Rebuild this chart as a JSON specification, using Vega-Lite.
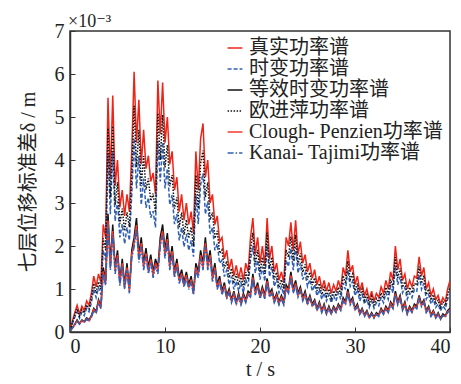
{
"$schema": "https://vega.github.io/schema/vega-lite/v6.json",
"width": 380, "height": 301,
"autosize": "none",
"padding": {"left": 70, "top": 31, "right": 11, "bottom": 52},
"background": "white",
"config": {"font": "Liberation Serif, Noto Sans CJK SC", "view": {"stroke": "#333", "strokeWidth": 1.5},
  "axis": {"grid": false, "domainColor": "#333", "domainWidth": 1.5, "tickColor": "#333", "tickSize": -5, "labelFontSize": 20, "labelColor": "#222", "titleFontSize": 20, "titleFontWeight": "normal", "titleColor": "#222", "labelFont": "Liberation Serif", "titleFont": "Liberation Serif, Noto Sans CJK SC"}},
"title": {"text": "×10⁻³", "anchor": "start", "frame": "group", "fontSize": 18, "fontWeight": "normal", "offset": 0, "dy": 10, "dx": -2, "color": "#222", "font": "Liberation Serif, DejaVu Serif"},
"data": {"values": [
{"t":0,"a":0.05,"b":0.04,"c":0.02,"d":0.04,"e":0.02,"f":0.02},
{"t":0.25,"a":0.25,"b":0.19,"c":0.10,"d":0.22,"e":0.09,"f":0.09},
{"t":0.5,"a":0.45,"b":0.34,"c":0.18,"d":0.39,"e":0.17,"f":0.16},
{"t":0.75,"a":0.62,"b":0.47,"c":0.28,"d":0.54,"e":0.26,"f":0.25},
{"t":1,"a":0.42,"b":0.32,"c":0.20,"d":0.37,"e":0.19,"f":0.18},
{"t":1.25,"a":0.60,"b":0.46,"c":0.28,"d":0.52,"e":0.26,"f":0.25},
{"t":1.5,"a":0.50,"b":0.38,"c":0.24,"d":0.44,"e":0.23,"f":0.22},
{"t":1.75,"a":0.72,"b":0.55,"c":0.33,"d":0.63,"e":0.31,"f":0.30},
{"t":2,"a":0.62,"b":0.47,"c":0.28,"d":0.54,"e":0.26,"f":0.25},
{"t":2.25,"a":0.90,"b":0.68,"c":0.38,"d":0.78,"e":0.36,"f":0.34},
{"t":2.5,"a":1.30,"b":0.99,"c":0.55,"d":1.13,"e":0.52,"f":0.50},
{"t":2.75,"a":1.05,"b":0.80,"c":0.48,"d":0.91,"e":0.45,"f":0.43},
{"t":3,"a":1.35,"b":1.03,"c":0.75,"d":1.17,"e":0.71,"f":0.68},
{"t":3.25,"a":1.15,"b":0.87,"c":0.60,"d":1.00,"e":0.56,"f":0.54},
{"t":3.5,"a":2.50,"b":1.90,"c":1.50,"d":2.18,"e":1.41,"f":1.35},
{"t":3.75,"a":2.20,"b":1.67,"c":1.20,"d":1.91,"e":1.13,"f":1.08},
{"t":4,"a":5.45,"b":4.14,"c":2.75,"d":4.74,"e":2.59,"f":2.48},
{"t":4.25,"a":3.60,"b":2.74,"c":1.60,"d":3.13,"e":1.50,"f":1.44},
{"t":4.5,"a":5.50,"b":4.18,"c":2.50,"d":4.79,"e":2.35,"f":2.25},
{"t":4.75,"a":3.40,"b":2.58,"c":1.50,"d":2.96,"e":1.41,"f":1.35},
{"t":5,"a":4.00,"b":3.04,"c":1.90,"d":3.48,"e":1.79,"f":1.71},
{"t":5.25,"a":2.90,"b":2.20,"c":1.20,"d":2.52,"e":1.13,"f":1.08},
{"t":5.5,"a":3.30,"b":2.51,"c":1.70,"d":2.87,"e":1.60,"f":1.53},
{"t":5.75,"a":2.70,"b":2.05,"c":1.10,"d":2.35,"e":1.03,"f":0.99},
{"t":6,"a":3.20,"b":2.43,"c":1.60,"d":2.78,"e":1.50,"f":1.44},
{"t":6.25,"a":2.80,"b":2.13,"c":1.00,"d":2.44,"e":0.94,"f":0.90},
{"t":6.5,"a":4.20,"b":3.19,"c":1.90,"d":3.65,"e":1.79,"f":1.71},
{"t":6.75,"a":6.05,"b":4.50,"c":2.20,"d":5.26,"e":2.07,"f":1.98},
{"t":7,"a":4.40,"b":3.34,"c":2.65,"d":3.83,"e":2.49,"f":2.39},
{"t":7.25,"a":5.40,"b":4.10,"c":1.80,"d":4.70,"e":1.69,"f":1.62},
{"t":7.5,"a":3.90,"b":2.96,"c":2.20,"d":3.39,"e":2.07,"f":1.98},
{"t":7.75,"a":4.70,"b":3.57,"c":1.60,"d":4.09,"e":1.50,"f":1.44},
{"t":8,"a":3.80,"b":2.89,"c":1.95,"d":3.31,"e":1.83,"f":1.76},
{"t":8.25,"a":4.10,"b":3.12,"c":1.50,"d":3.57,"e":1.41,"f":1.35},
{"t":8.5,"a":3.50,"b":2.66,"c":1.80,"d":3.05,"e":1.69,"f":1.62},
{"t":8.75,"a":3.70,"b":2.81,"c":1.40,"d":3.22,"e":1.32,"f":1.26},
{"t":9,"a":3.20,"b":2.43,"c":1.70,"d":2.78,"e":1.60,"f":1.53},
{"t":9.25,"a":5.85,"b":4.45,"c":1.50,"d":5.09,"e":1.41,"f":1.35},
{"t":9.5,"a":4.60,"b":3.50,"c":2.20,"d":4.00,"e":2.07,"f":1.98},
{"t":9.75,"a":5.80,"b":4.41,"c":2.50,"d":5.05,"e":2.35,"f":2.25},
{"t":10,"a":4.40,"b":3.34,"c":1.90,"d":3.83,"e":1.79,"f":1.71},
{"t":10.25,"a":5.00,"b":3.80,"c":2.30,"d":4.35,"e":2.16,"f":2.07},
{"t":10.5,"a":3.90,"b":2.96,"c":1.60,"d":3.39,"e":1.50,"f":1.44},
{"t":10.75,"a":4.20,"b":3.19,"c":2.00,"d":3.65,"e":1.88,"f":1.80},
{"t":11,"a":3.30,"b":2.51,"c":1.40,"d":2.87,"e":1.32,"f":1.26},
{"t":11.25,"a":3.60,"b":2.74,"c":1.70,"d":3.13,"e":1.60,"f":1.53},
{"t":11.5,"a":2.80,"b":2.13,"c":1.25,"d":2.44,"e":1.18,"f":1.13},
{"t":11.75,"a":3.20,"b":2.43,"c":1.45,"d":2.78,"e":1.36,"f":1.31},
{"t":12,"a":2.60,"b":1.98,"c":1.15,"d":2.26,"e":1.08,"f":1.04},
{"t":12.25,"a":3.00,"b":2.28,"c":1.40,"d":2.61,"e":1.32,"f":1.26},
{"t":12.5,"a":2.50,"b":1.90,"c":1.10,"d":2.18,"e":1.03,"f":0.99},
{"t":12.75,"a":2.80,"b":2.13,"c":1.30,"d":2.44,"e":1.22,"f":1.17},
{"t":13,"a":2.30,"b":1.75,"c":0.95,"d":2.00,"e":0.89,"f":0.86},
{"t":13.25,"a":4.20,"b":3.19,"c":1.60,"d":3.65,"e":1.50,"f":1.44},
{"t":13.5,"a":3.30,"b":2.51,"c":1.40,"d":2.87,"e":1.32,"f":1.26},
{"t":13.75,"a":4.50,"b":3.42,"c":1.90,"d":3.92,"e":1.79,"f":1.71},
{"t":14,"a":4.85,"b":3.69,"c":1.60,"d":4.22,"e":1.50,"f":1.44},
{"t":14.25,"a":3.60,"b":2.74,"c":2.20,"d":3.13,"e":2.07,"f":1.98},
{"t":14.5,"a":4.00,"b":3.04,"c":1.60,"d":3.48,"e":1.50,"f":1.44},
{"t":14.75,"a":3.00,"b":2.28,"c":1.90,"d":2.61,"e":1.79,"f":1.71},
{"t":15,"a":3.20,"b":2.43,"c":1.30,"d":2.78,"e":1.22,"f":1.17},
{"t":15.25,"a":2.50,"b":1.90,"c":1.60,"d":2.18,"e":1.50,"f":1.44},
{"t":15.5,"a":2.70,"b":2.05,"c":1.10,"d":2.35,"e":1.03,"f":0.99},
{"t":15.75,"a":2.10,"b":1.60,"c":1.30,"d":1.83,"e":1.22,"f":1.17},
{"t":16,"a":2.20,"b":1.67,"c":0.95,"d":1.91,"e":0.89,"f":0.86},
{"t":16.25,"a":1.70,"b":1.29,"c":1.15,"d":1.48,"e":1.08,"f":1.04},
{"t":16.5,"a":1.90,"b":1.44,"c":0.85,"d":1.65,"e":0.80,"f":0.77},
{"t":16.75,"a":1.45,"b":1.10,"c":1.00,"d":1.26,"e":0.94,"f":0.90},
{"t":17,"a":1.70,"b":1.29,"c":0.75,"d":1.48,"e":0.71,"f":0.68},
{"t":17.25,"a":1.30,"b":0.99,"c":0.95,"d":1.13,"e":0.89,"f":0.86},
{"t":17.5,"a":1.55,"b":1.18,"c":0.70,"d":1.35,"e":0.66,"f":0.63},
{"t":17.75,"a":1.25,"b":0.95,"c":0.90,"d":1.09,"e":0.85,"f":0.81},
{"t":18,"a":1.50,"b":1.14,"c":0.70,"d":1.31,"e":0.66,"f":0.63},
{"t":18.25,"a":1.20,"b":0.91,"c":0.90,"d":1.04,"e":0.85,"f":0.81},
{"t":18.5,"a":1.60,"b":1.22,"c":0.75,"d":1.39,"e":0.71,"f":0.68},
{"t":18.75,"a":1.40,"b":1.06,"c":0.95,"d":1.22,"e":0.89,"f":0.86},
{"t":19,"a":2.20,"b":1.67,"c":0.90,"d":1.91,"e":0.85,"f":0.81},
{"t":19.25,"a":2.65,"b":2.01,"c":1.35,"d":2.31,"e":1.27,"f":1.22},
{"t":19.5,"a":1.80,"b":1.37,"c":0.95,"d":1.57,"e":0.89,"f":0.86},
{"t":19.75,"a":2.20,"b":1.67,"c":1.15,"d":1.91,"e":1.08,"f":1.04},
{"t":20,"a":1.60,"b":1.22,"c":0.85,"d":1.39,"e":0.80,"f":0.77},
{"t":20.25,"a":2.00,"b":1.52,"c":1.05,"d":1.74,"e":0.99,"f":0.95},
{"t":20.5,"a":1.55,"b":1.18,"c":0.85,"d":1.35,"e":0.80,"f":0.77},
{"t":20.75,"a":2.65,"b":2.01,"c":1.25,"d":2.31,"e":1.18,"f":1.13},
{"t":21,"a":1.70,"b":1.29,"c":0.90,"d":1.48,"e":0.85,"f":0.81},
{"t":21.25,"a":2.00,"b":1.52,"c":1.00,"d":1.74,"e":0.94,"f":0.90},
{"t":21.5,"a":1.40,"b":1.06,"c":0.75,"d":1.22,"e":0.71,"f":0.68},
{"t":21.75,"a":1.60,"b":1.22,"c":0.90,"d":1.39,"e":0.85,"f":0.81},
{"t":22,"a":1.20,"b":0.91,"c":0.70,"d":1.04,"e":0.66,"f":0.63},
{"t":22.25,"a":1.40,"b":1.06,"c":0.85,"d":1.22,"e":0.80,"f":0.77},
{"t":22.5,"a":1.15,"b":0.87,"c":0.70,"d":1.00,"e":0.66,"f":0.63},
{"t":22.75,"a":2.20,"b":1.67,"c":1.10,"d":1.91,"e":1.03,"f":0.99},
{"t":23,"a":2.00,"b":1.52,"c":1.00,"d":1.74,"e":0.94,"f":0.90},
{"t":23.25,"a":2.55,"b":1.94,"c":1.40,"d":2.22,"e":1.32,"f":1.26},
{"t":23.5,"a":1.90,"b":1.44,"c":1.00,"d":1.65,"e":0.94,"f":0.90},
{"t":23.75,"a":2.60,"b":1.98,"c":1.20,"d":2.26,"e":1.13,"f":1.08},
{"t":24,"a":1.80,"b":1.37,"c":0.90,"d":1.57,"e":0.85,"f":0.81},
{"t":24.25,"a":2.10,"b":1.60,"c":1.05,"d":1.83,"e":0.99,"f":0.95},
{"t":24.5,"a":1.60,"b":1.22,"c":0.80,"d":1.39,"e":0.75,"f":0.72},
{"t":24.75,"a":1.80,"b":1.37,"c":0.95,"d":1.57,"e":0.89,"f":0.86},
{"t":25,"a":1.40,"b":1.06,"c":0.70,"d":1.22,"e":0.66,"f":0.63},
{"t":25.25,"a":1.60,"b":1.22,"c":0.85,"d":1.39,"e":0.80,"f":0.77},
{"t":25.5,"a":1.25,"b":0.95,"c":0.65,"d":1.09,"e":0.61,"f":0.59},
{"t":25.75,"a":1.45,"b":1.10,"c":0.75,"d":1.26,"e":0.71,"f":0.68},
{"t":26,"a":1.10,"b":0.84,"c":0.55,"d":0.96,"e":0.52,"f":0.50},
{"t":26.25,"a":1.30,"b":0.99,"c":0.70,"d":1.13,"e":0.66,"f":0.63},
{"t":26.5,"a":1.00,"b":0.76,"c":0.50,"d":0.87,"e":0.47,"f":0.45},
{"t":26.75,"a":1.20,"b":0.91,"c":0.65,"d":1.04,"e":0.61,"f":0.59},
{"t":27,"a":0.95,"b":0.72,"c":0.45,"d":0.83,"e":0.42,"f":0.41},
{"t":27.25,"a":1.15,"b":0.87,"c":0.60,"d":1.00,"e":0.56,"f":0.54},
{"t":27.5,"a":0.90,"b":0.68,"c":0.45,"d":0.78,"e":0.42,"f":0.41},
{"t":27.75,"a":1.10,"b":0.84,"c":0.60,"d":0.96,"e":0.56,"f":0.54},
{"t":28,"a":0.95,"b":0.72,"c":0.50,"d":0.83,"e":0.47,"f":0.45},
{"t":28.25,"a":1.20,"b":0.91,"c":0.65,"d":1.04,"e":0.61,"f":0.59},
{"t":28.5,"a":1.00,"b":0.76,"c":0.55,"d":0.87,"e":0.52,"f":0.50},
{"t":28.75,"a":1.50,"b":1.14,"c":0.80,"d":1.31,"e":0.75,"f":0.72},
{"t":29,"a":1.30,"b":0.99,"c":0.70,"d":1.13,"e":0.66,"f":0.63},
{"t":29.25,"a":1.90,"b":1.44,"c":1.00,"d":1.65,"e":0.94,"f":0.90},
{"t":29.5,"a":1.40,"b":1.06,"c":0.70,"d":1.22,"e":0.66,"f":0.63},
{"t":29.75,"a":1.55,"b":1.18,"c":0.80,"d":1.35,"e":0.75,"f":0.72},
{"t":30,"a":1.10,"b":0.84,"c":0.55,"d":0.96,"e":0.52,"f":0.50},
{"t":30.25,"a":1.30,"b":0.99,"c":0.65,"d":1.13,"e":0.61,"f":0.59},
{"t":30.5,"a":0.95,"b":0.72,"c":0.45,"d":0.83,"e":0.42,"f":0.41},
{"t":30.75,"a":1.15,"b":0.87,"c":0.55,"d":1.00,"e":0.52,"f":0.50},
{"t":31,"a":0.85,"b":0.65,"c":0.40,"d":0.74,"e":0.38,"f":0.36},
{"t":31.25,"a":1.00,"b":0.76,"c":0.50,"d":0.87,"e":0.47,"f":0.45},
{"t":31.5,"a":0.75,"b":0.57,"c":0.35,"d":0.65,"e":0.33,"f":0.32},
{"t":31.75,"a":0.95,"b":0.72,"c":0.45,"d":0.83,"e":0.42,"f":0.41},
{"t":32,"a":0.72,"b":0.55,"c":0.35,"d":0.63,"e":0.33,"f":0.32},
{"t":32.25,"a":0.90,"b":0.68,"c":0.45,"d":0.78,"e":0.42,"f":0.41},
{"t":32.5,"a":0.80,"b":0.61,"c":0.40,"d":0.70,"e":0.38,"f":0.36},
{"t":32.75,"a":1.05,"b":0.80,"c":0.55,"d":0.91,"e":0.52,"f":0.50},
{"t":33,"a":0.90,"b":0.68,"c":0.45,"d":0.78,"e":0.42,"f":0.41},
{"t":33.25,"a":1.20,"b":0.91,"c":0.60,"d":1.04,"e":0.56,"f":0.54},
{"t":33.5,"a":1.00,"b":0.76,"c":0.50,"d":0.87,"e":0.47,"f":0.45},
{"t":33.75,"a":1.40,"b":1.06,"c":0.70,"d":1.22,"e":0.66,"f":0.63},
{"t":34,"a":1.20,"b":0.91,"c":0.60,"d":1.04,"e":0.56,"f":0.54},
{"t":34.25,"a":2.00,"b":1.52,"c":0.95,"d":1.74,"e":0.89,"f":0.86},
{"t":34.5,"a":1.45,"b":1.10,"c":0.70,"d":1.26,"e":0.66,"f":0.63},
{"t":34.75,"a":1.70,"b":1.29,"c":0.85,"d":1.48,"e":0.80,"f":0.77},
{"t":35,"a":1.20,"b":0.91,"c":0.55,"d":1.04,"e":0.52,"f":0.50},
{"t":35.25,"a":1.35,"b":1.03,"c":0.70,"d":1.17,"e":0.66,"f":0.63},
{"t":35.5,"a":1.00,"b":0.76,"c":0.45,"d":0.87,"e":0.42,"f":0.41},
{"t":35.75,"a":1.20,"b":0.91,"c":0.60,"d":1.04,"e":0.56,"f":0.54},
{"t":36,"a":1.05,"b":0.80,"c":0.50,"d":0.91,"e":0.47,"f":0.45},
{"t":36.25,"a":1.30,"b":0.99,"c":0.65,"d":1.13,"e":0.61,"f":0.59},
{"t":36.5,"a":1.25,"b":0.95,"c":0.60,"d":1.09,"e":0.56,"f":0.54},
{"t":36.75,"a":1.75,"b":1.33,"c":0.85,"d":1.52,"e":0.80,"f":0.77},
{"t":37,"a":1.30,"b":0.99,"c":0.65,"d":1.13,"e":0.61,"f":0.59},
{"t":37.25,"a":1.50,"b":1.14,"c":0.75,"d":1.31,"e":0.71,"f":0.68},
{"t":37.5,"a":1.00,"b":0.76,"c":0.50,"d":0.87,"e":0.47,"f":0.45},
{"t":37.75,"a":1.15,"b":0.87,"c":0.60,"d":1.00,"e":0.56,"f":0.54},
{"t":38,"a":0.85,"b":0.65,"c":0.40,"d":0.74,"e":0.38,"f":0.36},
{"t":38.25,"a":1.00,"b":0.76,"c":0.50,"d":0.87,"e":0.47,"f":0.45},
{"t":38.5,"a":0.75,"b":0.57,"c":0.35,"d":0.65,"e":0.33,"f":0.32},
{"t":38.75,"a":0.85,"b":0.65,"c":0.45,"d":0.74,"e":0.42,"f":0.41},
{"t":39,"a":0.65,"b":0.49,"c":0.32,"d":0.57,"e":0.30,"f":0.29},
{"t":39.25,"a":0.80,"b":0.61,"c":0.42,"d":0.70,"e":0.39,"f":0.38},
{"t":39.5,"a":0.70,"b":0.53,"c":0.38,"d":0.61,"e":0.36,"f":0.34},
{"t":39.75,"a":1.00,"b":0.76,"c":0.50,"d":0.87,"e":0.47,"f":0.45},
{"t":40,"a":1.20,"b":0.91,"c":0.55,"d":1.04,"e":0.52,"f":0.50}
]},
"transform": [{"fold": ["a", "b", "c", "d", "e", "f"], "as": ["k", "v"]}],
"mark": {"type": "line", "clip": true},
"encoding": {
  "x": {"field": "t", "type": "quantitative", "scale": {"domain": [0, 40], "nice": false}, "axis": {"values": [0, 10, 20, 30, 40], "title": "t / s", "labelPadding": 9, "titlePadding": 3}},
  "y": {"field": "v", "type": "quantitative", "scale": {"domain": [0, 7], "nice": false}, "axis": {"values": [0, 1, 2, 3, 4, 5, 6, 7], "title": "七层位移标准差δ / m", "labelPadding": 11, "titlePadding": 16}},
  "color": {"field": "k", "type": "nominal", "scale": {"domain": ["a", "b", "c", "d", "e", "f"], "range": ["#ee2418", "#2f5fb5", "#111111", "#111111", "#f2382c", "#2f5fb5"]},
    "legend": {"orient": "none", "legendX": 155, "legendY": 7, "title": null, "labelExpr": "{'a':'真实功率谱','b':'时变功率谱','c':'等效时变功率谱','d':'欧进萍功率谱','e':'Clough- Penzien功率谱','f':'Kanai- Tajimi功率谱'}[datum.value]", "labelFontSize": 20, "labelFont": "Liberation Serif, Noto Sans CJK SC", "labelColor": "#222", "symbolType": "stroke", "symbolSize": 220, "symbolStrokeWidth": 1.5, "rowPadding": 1, "labelOffset": 4, "labelLimit": 300}},
  "strokeDash": {"field": "k", "type": "nominal", "scale": {"domain": ["a", "b", "c", "d", "e", "f"], "range": [[1, 0], [4, 2], [1, 0], [1.5, 1.5], [1, 0], [6, 2, 1.5, 2]]},
    "legend": {"orient": "none", "legendX": 155, "legendY": 7, "title": null, "labelExpr": "{'a':'真实功率谱','b':'时变功率谱','c':'等效时变功率谱','d':'欧进萍功率谱','e':'Clough- Penzien功率谱','f':'Kanai- Tajimi功率谱'}[datum.value]", "labelFontSize": 20, "labelFont": "Liberation Serif, Noto Sans CJK SC", "labelColor": "#222", "symbolType": "stroke", "symbolSize": 220, "symbolStrokeWidth": 1.5, "rowPadding": 1, "labelOffset": 4, "labelLimit": 300}},
  "strokeWidth": {"field": "k", "type": "nominal", "scale": {"domain": ["a", "b", "c", "d", "e", "f"], "range": [1.5, 1.5, 1.4, 1.3, 1, 1.2]}, "legend": null}
}
}
